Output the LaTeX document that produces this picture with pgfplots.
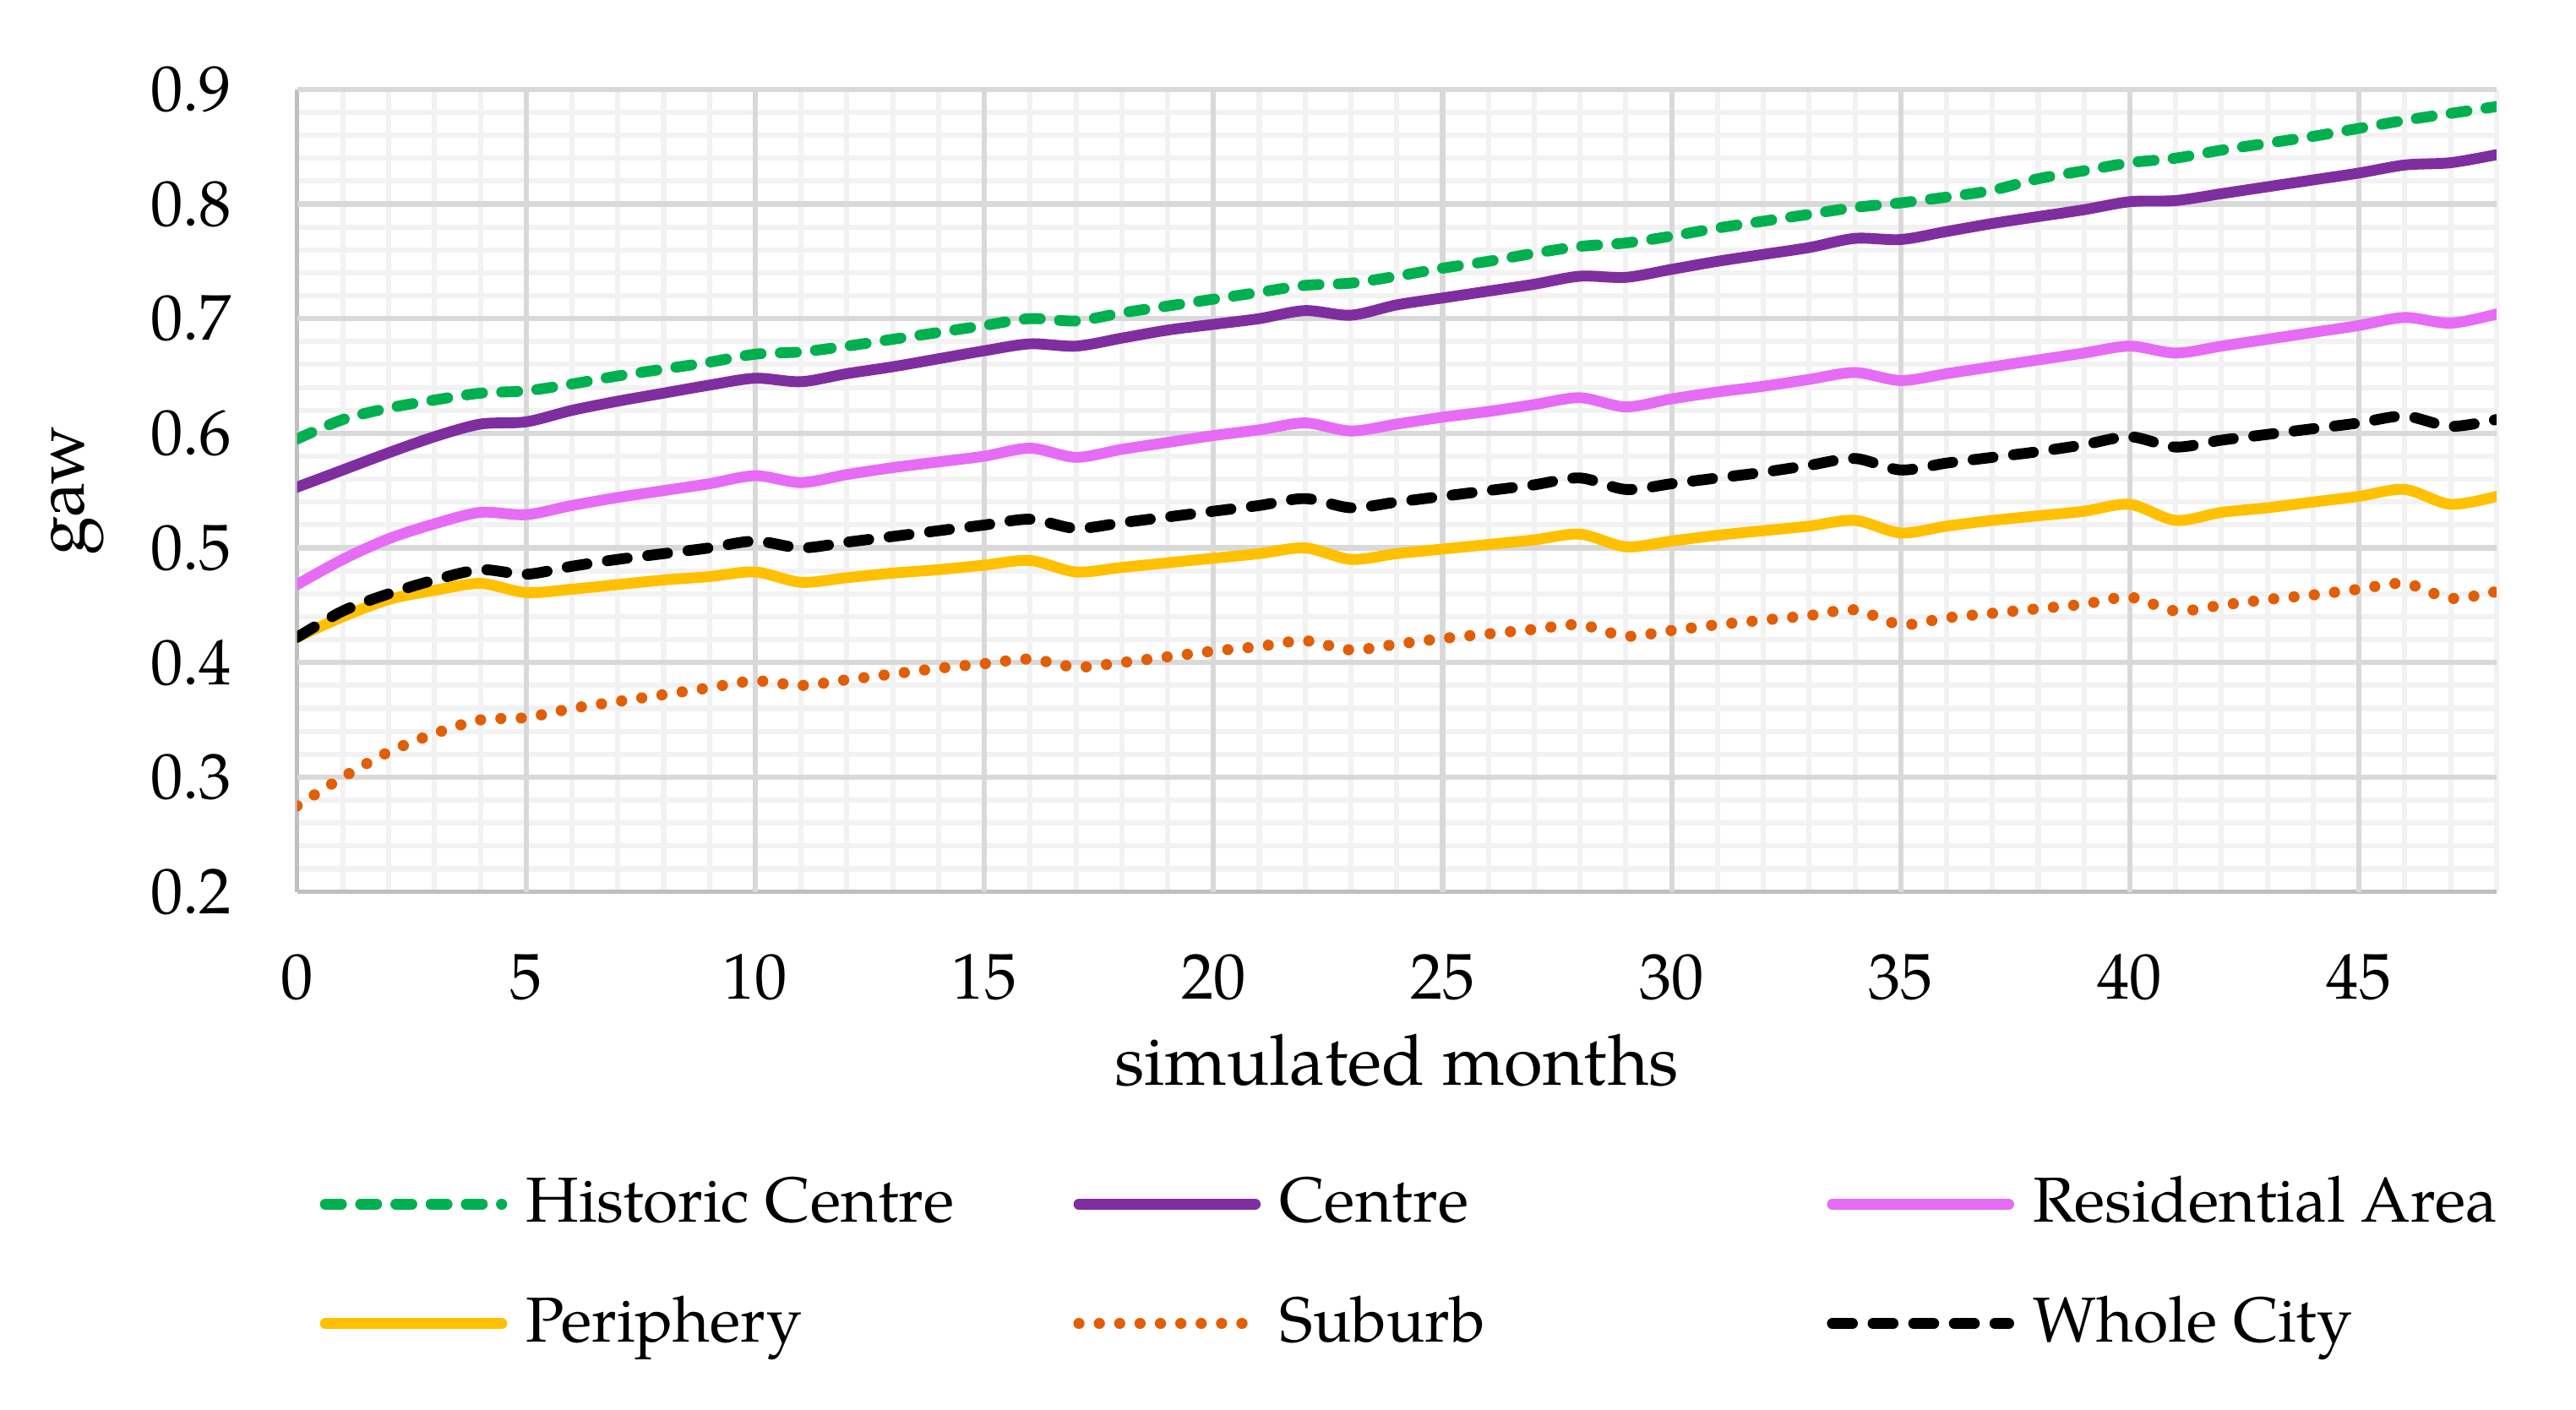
\documentclass[border=0pt]{standalone}
\usepackage{fontspec}
\setmainfont{TeX Gyre Pagella}
\usepackage{pgfplots}
\usepackage{pgfplotstable}
\pgfplotsset{compat=1.18}
\definecolor{cgreen}{RGB}{0,176,80}
\definecolor{cpurple}{RGB}{127,46,160}
\definecolor{cpink}{RGB}{230,108,245}
\definecolor{cyellow}{RGB}{255,192,0}
\definecolor{corange}{RGB}{226,94,5}
\definecolor{gmajor}{RGB}{217,217,217}
\definecolor{gminor}{RGB}{242,242,242}
\definecolor{gaxis}{RGB}{191,191,191}
\pgfplotstableread{
m hc ce ra pe su wc
0 0.595 0.553 0.468 0.422 0.275 0.422
1 0.612 0.568 0.490 0.440 0.300 0.445
2 0.622 0.583 0.508 0.455 0.322 0.460
3 0.629 0.597 0.521 0.463 0.338 0.472
4 0.635 0.608 0.531 0.469 0.350 0.481
5 0.637 0.610 0.529 0.461 0.352 0.477
6 0.643 0.620 0.537 0.464 0.360 0.484
7 0.650 0.628 0.544 0.468 0.366 0.490
8 0.656 0.635 0.550 0.472 0.372 0.495
9 0.662 0.642 0.556 0.475 0.378 0.500
10 0.669 0.648 0.563 0.479 0.384 0.506
11 0.671 0.645 0.557 0.470 0.380 0.500
12 0.676 0.652 0.564 0.474 0.385 0.505
13 0.682 0.658 0.570 0.478 0.390 0.510
14 0.688 0.665 0.575 0.481 0.395 0.515
15 0.694 0.672 0.580 0.485 0.399 0.520
16 0.700 0.678 0.587 0.489 0.403 0.525
17 0.698 0.676 0.579 0.479 0.396 0.517
18 0.705 0.683 0.586 0.483 0.400 0.522
19 0.711 0.690 0.592 0.487 0.405 0.527
20 0.717 0.695 0.598 0.491 0.410 0.532
21 0.723 0.700 0.603 0.495 0.414 0.537
22 0.729 0.707 0.609 0.500 0.419 0.543
23 0.731 0.703 0.602 0.490 0.411 0.535
24 0.737 0.712 0.608 0.495 0.416 0.540
25 0.744 0.718 0.614 0.499 0.421 0.545
26 0.750 0.724 0.619 0.503 0.425 0.550
27 0.757 0.730 0.625 0.507 0.429 0.555
28 0.763 0.737 0.631 0.512 0.433 0.561
29 0.766 0.736 0.623 0.501 0.423 0.551
30 0.772 0.743 0.630 0.506 0.428 0.556
31 0.779 0.750 0.636 0.511 0.433 0.561
32 0.785 0.756 0.641 0.515 0.437 0.566
33 0.791 0.762 0.647 0.519 0.441 0.572
34 0.797 0.770 0.653 0.524 0.446 0.578
35 0.801 0.769 0.646 0.513 0.433 0.568
36 0.806 0.776 0.652 0.519 0.439 0.574
37 0.812 0.783 0.658 0.524 0.443 0.579
38 0.822 0.789 0.664 0.528 0.447 0.584
39 0.829 0.795 0.670 0.532 0.451 0.590
40 0.836 0.802 0.676 0.538 0.457 0.597
41 0.840 0.803 0.670 0.524 0.445 0.588
42 0.847 0.809 0.676 0.531 0.450 0.594
43 0.853 0.815 0.682 0.535 0.455 0.599
44 0.859 0.821 0.688 0.540 0.459 0.604
45 0.866 0.827 0.694 0.545 0.464 0.609
46 0.873 0.834 0.701 0.551 0.469 0.615
47 0.879 0.836 0.696 0.538 0.456 0.606
48 0.885 0.843 0.704 0.545 0.462 0.612
}\data
\newcommand\legtxt[1]{\makebox[95.6pt][l]{\rule[-3pt]{0pt}{11pt}#1}}
\begin{document}
\fontsize{11.2pt}{13.5pt}\selectfont
\begin{tikzpicture}
\useasboundingbox (-51.9pt,-90.5pt) rectangle (398.1pt,155.8pt);
\begin{axis}[
  scale only axis,
  width=384.2pt, height=140.2pt,
  xmin=0, xmax=48, ymin=0.2, ymax=0.9,
  xtick={0,5,...,45},
  ytick={0.2,0.3,0.4,0.5,0.6,0.7,0.8,0.9},
  minor xtick={1,2,3,4,6,7,8,9,11,12,13,14,16,17,18,19,21,22,23,24,26,27,28,29,31,32,33,34,36,37,38,39,41,42,43,44,46,47,48},
  minor ytick={0.22,0.24,0.26,0.28,0.32,0.34,0.36,0.38,0.42,0.44,0.46,0.48,0.52,0.54,0.56,0.58,0.62,0.64,0.66,0.68,0.72,0.74,0.76,0.78,0.82,0.84,0.86,0.88},
  grid=minor,
  extra x ticks={5,10,15,20,25,30,35,40,45},
  extra y ticks={0.3,0.4,0.5,0.6,0.7,0.8,0.9},
  extra x tick labels={}, extra y tick labels={},
  extra tick style={grid=major, major tick length=0pt},
  major grid style={draw=gmajor, line width=0.9pt},
  minor grid style={draw=gminor, line width=0.9pt},
  major tick length=0pt, minor tick length=0pt,
  axis x line*=bottom, axis y line*=left,
  axis line style={draw=gaxis, line width=0.8pt, -},
  /pgf/number format/assume math mode=true,
  yticklabel style={/pgf/number format/fixed,/pgf/number format/precision=1,/pgf/number format/fixed zerofill},
  xticklabel shift=7pt, yticklabel shift=7.5pt,
  tick label style={font=\fontsize{11.3pt}{13pt}\selectfont},
  xlabel={simulated months}, ylabel={gaw},
  label style={font=\fontsize{12.3pt}{14.5pt}\selectfont},
  x label style={at={(axis description cs:0.5,0)}, anchor=center, yshift=-29.4pt},
  y label style={at={(axis description cs:-0.0997,0.5)}, anchor=center},
  legend style={at={(axis description cs:0,0)}, anchor=north west, xshift=4.0pt, yshift=-49.7pt,
    draw=none, fill=none, inner sep=0pt, outer sep=0pt, row sep=11.1pt,
    font=\fontsize{11.1pt}{13pt}\selectfont,
    /tikz/every odd column/.append style={column sep=3.3pt},
    /tikz/every even column/.append style={column sep=0pt},
    nodes={inner sep=0pt}},
  legend columns=3,
  legend cell align=left,
  legend image code/.code={\draw[#1] plot coordinates {(0pt,0pt) (30.8pt,0pt)};},
  every axis plot/.append style={smooth, tension=0.5, line width=1.9pt},
]
\addplot[cgreen, line cap=round, dash pattern=on 2.8pt off 3.35pt] table[x=m,y=hc] {\data};
\addlegendentry{\legtxt{Historic Centre}}
\addplot[cpurple, line cap=round] table[x=m,y=ce] {\data};
\addlegendentry{\legtxt{Centre}}
\addplot[cpink, line cap=round] table[x=m,y=ra] {\data};
\addlegendentry{\legtxt{Residential Area}}
\addplot[cyellow, line cap=round] table[x=m,y=pe] {\data};
\addlegendentry{\legtxt{Periphery}}
\addplot[corange, line cap=round, line width=1.95pt, dash pattern=on 0.01pt off 3.55pt] table[x=m,y=su] {\data};
\addlegendentry{\legtxt{Suburb}}
\addplot[black, line cap=round, dash pattern=on 3.5pt off 3.6pt] table[x=m,y=wc] {\data};
\addlegendentry{\legtxt{Whole City}}
\end{axis}
\end{tikzpicture}
\end{document}
